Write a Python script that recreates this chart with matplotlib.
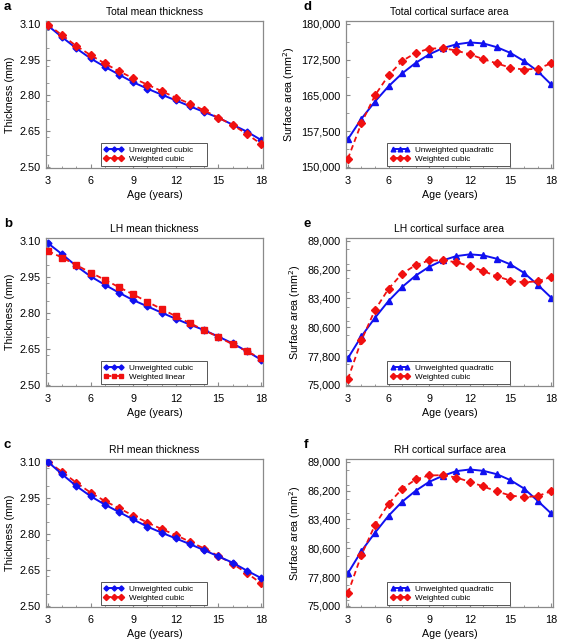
import matplotlib
matplotlib.use('Agg')
import matplotlib.pyplot as plt
from matplotlib.ticker import MultipleLocator, FuncFormatter

plt.rcParams['font.family'] = ['Liberation Sans', 'DejaVu Sans']

ages = list(range(3, 19))

# thickness (mm)
total_thk_unw = [3.092, 3.044, 2.997, 2.955, 2.920, 2.887, 2.855, 2.828,
                 2.803, 2.779, 2.754, 2.730, 2.706, 2.677, 2.648, 2.613]
total_thk_w = [3.097, 3.052, 3.007, 2.969, 2.934, 2.901, 2.872, 2.845,
               2.818, 2.790, 2.765, 2.737, 2.706, 2.676, 2.638, 2.596]
lh_thk_unw = [3.090, 3.044, 2.995, 2.952, 2.917, 2.884, 2.853, 2.827,
              2.801, 2.775, 2.751, 2.728, 2.701, 2.673, 2.640, 2.605]
lh_thk_w = [3.058, 3.030, 2.999, 2.968, 2.938, 2.907, 2.877, 2.846,
            2.816, 2.786, 2.757, 2.728, 2.699, 2.669, 2.640, 2.610]
rh_thk_unw = [3.100, 3.048, 2.999, 2.957, 2.922, 2.891, 2.860, 2.830,
              2.805, 2.781, 2.757, 2.732, 2.706, 2.680, 2.647, 2.616]
rh_thk_w = [3.100, 3.058, 3.013, 2.972, 2.937, 2.907, 2.876, 2.847,
            2.820, 2.795, 2.767, 2.739, 2.708, 2.675, 2.637, 2.594]

# surface area (mm^2)
total_sa_unw = [155800, 160100, 163700, 166900, 169600, 171800, 173600, 174900,
                175700, 176100, 175900, 175100, 173900, 172200, 170100, 167300]
total_sa_w = [151700, 159200, 165000, 169200, 172200, 173900, 174800, 174900,
              174400, 173600, 172600, 171700, 170800, 170400, 170600, 171700]
lh_sa_unw = [77590, 79720, 81520, 83160, 84510, 85620, 86480, 87100,
             87520, 87690, 87590, 87260, 86710, 85890, 84740, 83490]
lh_sa_w = [75560, 79330, 82280, 84340, 85820, 86640, 87100, 87100,
           86930, 86540, 86050, 85560, 85130, 84970, 85070, 85490]
rh_sa_unw = [78170, 80330, 82110, 83760, 85120, 86190, 87060, 87640,
             88100, 88260, 88130, 87800, 87220, 86410, 85220, 83990]
rh_sa_w = [76230, 79950, 82860, 84930, 86380, 87290, 87680, 87710,
           87480, 87060, 86610, 86120, 85730, 85570, 85670, 86150]

thk_ticks = [2.50, 2.65, 2.80, 2.95, 3.10]
sa_total_ticks = [150000, 157500, 165000, 172500, 180000]
sa_hemi_ticks = [75000, 77800, 80600, 83400, 86200, 89000]

BLUE = '#1010f0'
RED = '#f01010'
GREY = '#8a8a8a'

fig = plt.figure(figsize=(5.61, 6.42), dpi=100)

left_x, left_w = 46 / 561, 217 / 561
right_x, right_w = 346 / 561, 207 / 561
rows = [(1 - 168 / 642, 147 / 642), (1 - 386 / 642, 148 / 642), (1 - 607 / 642, 148 / 642)]


def panel(pos, letter, title, unw, w, lab_unw, lab_w, mk_unw, mk_w, ticks,
          ylabel, fmt, leg_box, blue_top=False):
    ax = fig.add_axes(pos)
    zb, zr = (3, 2) if blue_top else (2, 3)
    ax.plot(ages, unw, '-', color=BLUE, lw=1.4, marker=mk_unw,
            ms=4.5 if mk_unw == '^' else 3.5, label=lab_unw, zorder=zb)
    ax.plot(ages, w, '--', color=RED, lw=1.3, marker=mk_w,
            ms=4.5 if mk_w == 's' else 4.2, label=lab_w, zorder=zr,
            dashes=(3, 2))
    span = ticks[-1] - ticks[0]
    ax.set_ylim(ticks[0] - span * 0.008, ticks[-1] + span * 0.02)
    ax.set_xlim(2.86, 18.14)
    ax.set_yticks(ticks)
    ax.yaxis.set_major_formatter(FuncFormatter(fmt))
    ax.set_xticks([3, 6, 9, 12, 15, 18])
    ax.xaxis.set_minor_locator(MultipleLocator(1))
    ax.yaxis.set_minor_locator(MultipleLocator((ticks[1] - ticks[0]) / 2))
    ax.tick_params(which='both', direction='in', color=GREY, labelsize=7.8)
    ax.tick_params(axis='x', pad=5.5)
    ax.tick_params(axis='y', pad=4)
    ax.tick_params(which='major', length=3)
    ax.tick_params(which='minor', length=1.8)
    for s in ax.spines.values():
        s.set_color(GREY)
        s.set_linewidth(0.9)
    ax.set_title(title, fontsize=7.5, pad=4)
    ax.set_xlabel('Age (years)', fontsize=7.7, labelpad=3)
    ax.set_ylabel(ylabel, fontsize=7.7, labelpad=3)
    leg = ax.legend(loc='lower left', bbox_to_anchor=leg_box, mode='expand',
                    fontsize=5.9, numpoints=3, markerscale=0.75,
                    handlelength=2.4, borderaxespad=0.0, fancybox=False,
                    edgecolor='#555555', framealpha=1, borderpad=0.4,
                    labelspacing=0.2, handletextpad=0.6)
    leg.get_frame().set_linewidth(0.7)
    fig.text(pos[0] - 0.075, pos[1] + pos[3] + 0.012, letter,
             fontsize=9.5, fontweight='bold', va='bottom', ha='left')
    return ax


thk_fmt = lambda v, p: f'{v:.2f}'
sa_fmt = lambda v, p: f'{int(round(v)):,}'
thk_label = 'Thickness (mm)'
sa_label = 'Surface area (mm$^2$)'
leg_left = (0.252, 0.012, 0.49, 0.16)
leg_right = (0.198, 0.012, 0.594, 0.16)

panel((left_x, rows[0][0], left_w, rows[0][1]), 'a', 'Total mean thickness',
      total_thk_unw, total_thk_w, 'Unweighted cubic', 'Weighted cubic',
      'D', 'D', thk_ticks, thk_label, thk_fmt, leg_left)
panel((left_x, rows[1][0], left_w, rows[1][1]), 'b', 'LH mean thickness',
      lh_thk_unw, lh_thk_w, 'Unweighted cubic', 'Weighted linear',
      'D', 's', thk_ticks, thk_label, thk_fmt, leg_left)
panel((left_x, rows[2][0], left_w, rows[2][1]), 'c', 'RH mean thickness',
      rh_thk_unw, rh_thk_w, 'Unweighted cubic', 'Weighted cubic',
      'D', 'D', thk_ticks, thk_label, thk_fmt, leg_left, blue_top=True)
panel((right_x, rows[0][0], right_w, rows[0][1]), 'd', 'Total cortical surface area',
      total_sa_unw, total_sa_w, 'Unweighted quadratic', 'Weighted cubic',
      '^', 'D', sa_total_ticks, sa_label, sa_fmt, leg_right)
panel((right_x, rows[1][0], right_w, rows[1][1]), 'e', 'LH cortical surface area',
      lh_sa_unw, lh_sa_w, 'Unweighted quadratic', 'Weighted cubic',
      '^', 'D', sa_hemi_ticks, sa_label, sa_fmt, leg_right)
panel((right_x, rows[2][0], right_w, rows[2][1]), 'f', 'RH cortical surface area',
      rh_sa_unw, rh_sa_w, 'Unweighted quadratic', 'Weighted cubic',
      '^', 'D', sa_hemi_ticks, sa_label, sa_fmt, leg_right)

fig.savefig('out.png', dpi=100)
